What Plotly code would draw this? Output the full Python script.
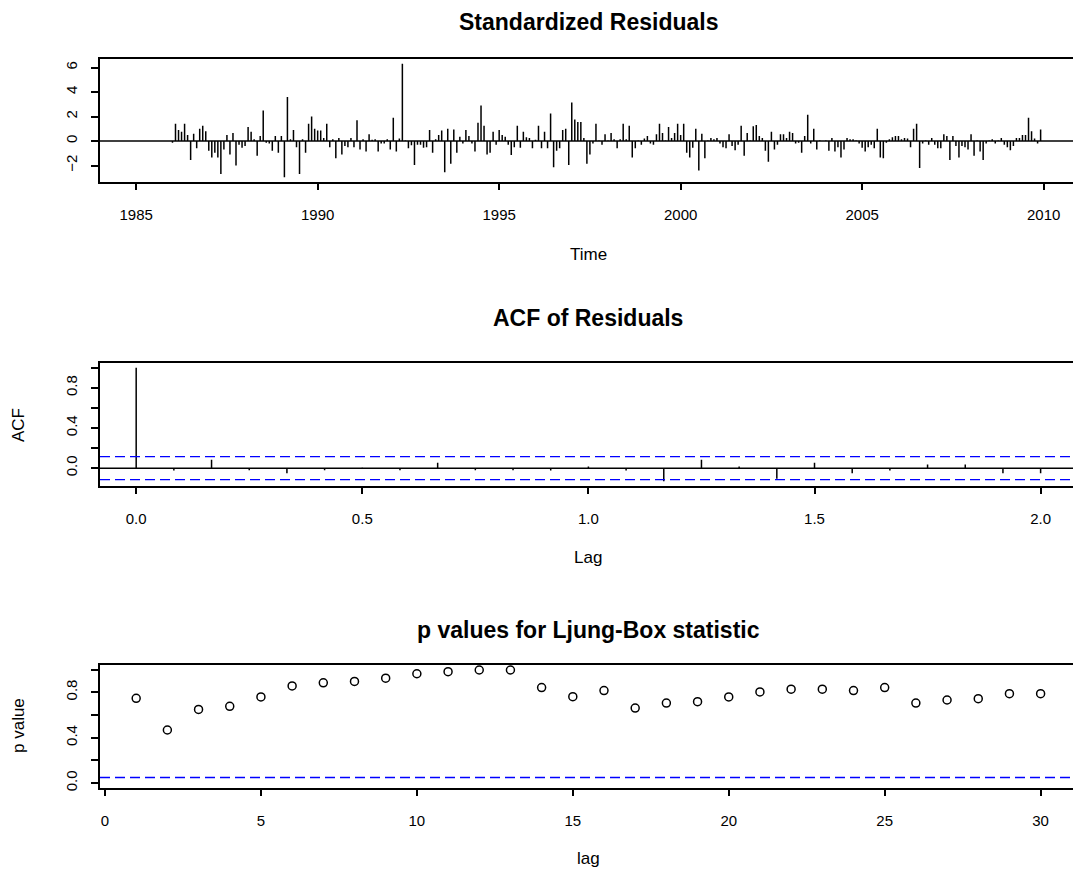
import plotly.graph_objects as go

# ---------------- data ----------------
resid_start = 1986.0          # first plotted residual (Jan 1986), monthly series
resid = [
    -0.15, 1.4, 0.9, 0.75, 1.4, 0.5, -1.55, 0.6, -0.6, 1.0, 1.25, 0.8,
    -0.8, -1.35, -0.95, -1.35, -2.7, -0.7, 0.5, -1.1, 0.65, -2.0, -0.3, -0.55,
    -0.4, 1.15, 0.75, 0.15, -1.2, 0.4, 2.5, -0.15, -0.2, -0.8, 0.4, -0.95,
    0.4, -2.95, 3.6, 0.15, 0.9, -0.5, -2.7, 0.15, -0.95, 1.4, 2.0, 1.0,
    0.85, 0.85, 0.25, 1.4, -0.5, 0.15, -1.4, 0.25, -1.1, -0.4,
    -0.5, 0.25, -0.5, 1.7, -0.7, 0.15, -0.85, 0.55, 0.1, 0.15, -0.85, -0.2,
    -0.2, 0.15, -0.7, 1.9, -0.85, 0.2, 6.3, 0.05, -0.6, -0.35, -1.95, -0.3,
    -0.3, -0.55, -0.5, 0.9, -0.95, 0.15, 0.5, 0.85, -2.55, 1.0, -1.85, 0.95,
    -0.95, 0.35, -0.2, 0.9, 0.4, -0.2, -0.85, 1.5, 2.9, 1.25, -1.1, -0.95,
    0.75, -0.3, 0.9, 0.5, 0.35, -0.3, -1.15, -0.5, 1.25, -0.55, 0.75,
    0.3, 0.25, -0.6, 0.1, 1.25, -0.6, 0.75, -0.6, 2.25, -2.15, -0.8, -0.6,
    0.9, 1.0, -1.95, 3.15, 1.75, 1.55, 1.55, 0.25, -1.85, -1.1, -0.2, 1.4,
    0.05, -0.3, 0.55, 0.05, 0.65, 0.15, -0.6, 0.15, 1.4, 0.15, 1.25, -1.35,
    -0.6, 0.05, -0.3, 0.2, 0.4, -0.2, -0.3, 0.55, 1.4, 0.65, 0.05, 1.15,
    0.25, 0.65, 1.4, 0.5, 1.4, -0.95, -1.35, -0.55, 1.0, -2.4, 0.6,
    -1.4, 0.05, 0.25, 0.15, 0.25, -0.2, -0.5, -0.6, 0.55, -0.4, -0.75, -0.3,
    1.25, -1.2, 0.65, 0.05, 1.2, 1.3, 0.4, 0.25, -0.8, -1.7, 0.75, -0.7,
    -0.3, 0.55, 0.55, 0.25, 0.75, 0.65, -0.2, -0.15, -0.95, 0.4, 2.15, -0.2,
    1.0, -0.7, 0.05, 0.0, 0.05, -0.8, 0.25, -0.85, -0.5, -1.35, -0.7, 0.25,
    0.15, 0.15, 0.05, -0.2, -0.55, -0.85, -0.5, -0.3, -0.6, 1.0, -1.35,
    -1.4, -0.15, 0.15, 0.3, 0.4, 0.4, 0.15, 0.25, 0.2, -0.5, 1.0, 1.4,
    -2.2, -0.2, 0.05, -0.3, 0.25, -0.3, -0.6, -0.6, 0.55, 0.4, -1.55, 0.4,
    -0.4, -1.35, -0.4, -0.5, -0.7, 0.55, -1.2, 0.05, -0.85, -1.55, -0.2, 0.05,
    0.15, -0.2, 0.05, 0.25, -0.3, -0.5, -0.75, -0.4, 0.25, 0.25, 0.5, 0.5,
    1.9, 0.8, 0.2, -0.2, 0.95,
]
resid_xticks = [1985, 1990, 1995, 2000, 2005, 2010]
resid_yticks = [-2, 0, 2, 4, 6]

acf_lags_months = list(range(0, 25))
acf_vals = [1.0, -0.023, 0.083, -0.02, -0.05, -0.02, 0.005, -0.02, 0.053, -0.02,
            -0.02, -0.023, 0.017, -0.023, -0.13, 0.083, 0.017, -0.106, 0.053,
            -0.05, -0.023, 0.037, 0.037, -0.05, -0.05]
acf_ci = 0.1155
acf_xticks = [0.0, 0.5, 1.0, 1.5, 2.0]
acf_xticktext = ["0.0", "0.5", "1.0", "1.5", "2.0"]

lb_lags = list(range(1, 31))
lb_pvals = [0.747, 0.468, 0.649, 0.676, 0.759, 0.856, 0.883, 0.895, 0.924, 0.963,
            0.981, 0.996, 0.996, 0.841, 0.761, 0.815, 0.661, 0.705, 0.717, 0.759,
            0.803, 0.827, 0.827, 0.815, 0.841, 0.705, 0.732, 0.744, 0.788, 0.788]
lb_sig = 0.05
lb_xticks = [0, 5, 10, 15, 20, 25, 30]

prob_yticks = [0.0, 0.2, 0.4, 0.6, 0.8, 1.0]
prob_yticktext = ["0.0", "", "0.4", "", "0.8", ""]

titles = ["Standardized Residuals", "ACF of Residuals", "p values for Ljung-Box statistic"]
xlabels = ["Time", "Lag", "lag"]
ylabels = ["", "ACF", "p value"]

# ---------------- figure ----------------
W, H = 1073, 870
ML = 100
FONT = "Liberation Sans, Arial, sans-serif"
fig = go.Figure()

def stems(xv, yv):
    xs, ys = [], []
    for a, b in zip(xv, yv):
        xs += [a, a, None]
        ys += [0, b, None]
    return xs, ys

t = [resid_start + i / 12 for i in range(len(resid))]
sx, sy = stems(t, resid)
fig.add_trace(go.Scatter(x=sx, y=sy, mode="lines", line=dict(color="black", width=1.5),
                         xaxis="x", yaxis="y", hoverinfo="skip", showlegend=False))

acf_x = [m / 12 for m in acf_lags_months]
ax_, ay_ = stems(acf_x, acf_vals)
fig.add_trace(go.Scatter(x=ax_, y=ay_, mode="lines", line=dict(color="black", width=1.5),
                         xaxis="x2", yaxis="y2", hoverinfo="skip", showlegend=False))

fig.add_trace(go.Scatter(x=lb_lags, y=lb_pvals, mode="markers",
                         marker=dict(symbol="circle-open", size=8, color="black",
                                     line=dict(width=1.5, color="black")),
                         xaxis="x3", yaxis="y3", hoverinfo="skip", showlegend=False))

def ext(lo, hi, f=0.04):
    d = (hi - lo) * f
    return lo - d, hi + d

r1 = ext(min(resid), max(resid))
x1lo, x1hi = ext(resid_start - 1.0, t[-1])
x2lo, x2hi = ext(0, acf_x[-1])
r2 = ext(min(min(acf_vals), -acf_ci), max(max(acf_vals), acf_ci))
x3lo, x3hi = ext(lb_lags[0], lb_lags[-1])
r3 = ext(0, 1)

# plot region in R extends ~977 px; browser window cuts it at 1073
PLOT_W_R = 976.8
vis = (W - ML) / PLOT_W_R
def cut(lo, hi):
    return [lo, lo + (hi - lo) * vis]

dom = {
    1: [1 - 181.7 / H, 1 - 59.3 / H],
    2: [1 - 485.7 / H, 1 - 363.3 / H],
    3: [1 - 787.7 / H, 1 - 665.0 / H],
}

tickfont = dict(family=FONT, size=15, color="black")
common_x = dict(showline=True, linecolor="black", linewidth=1.5, mirror=True,
                ticks="outside", ticklen=7, tickwidth=1.5, tickcolor="black",
                showgrid=False, zeroline=False, tickfont=tickfont,
                ticklabelstandoff=12, domain=[0, 1], automargin=False)
common_y = dict(showline=True, linecolor="black", linewidth=1.5, mirror=False,
                ticks="outside", ticklen=7, tickwidth=1.5, tickcolor="black",
                showgrid=False, zeroline=False, tickfont=tickfont, tickangle=-90,
                ticklabelstandoff=8, automargin=False)

fig.update_layout(
    width=W, height=H,
    margin=dict(l=ML, r=0, t=0, b=0),
    paper_bgcolor="white", plot_bgcolor="white",
    showlegend=False,
    xaxis=dict(common_x, range=cut(x1lo, x1hi), tickvals=resid_xticks, anchor="y"),
    yaxis=dict(common_y, range=list(r1), tickvals=resid_yticks, domain=dom[1], anchor="x"),
    xaxis2=dict(common_x, range=cut(x2lo, x2hi), tickvals=acf_xticks,
                ticktext=acf_xticktext, anchor="y2"),
    yaxis2=dict(common_y, range=list(r2), tickvals=prob_yticks, ticktext=prob_yticktext,
                domain=dom[2], anchor="x2"),
    xaxis3=dict(common_x, range=cut(x3lo, x3hi), tickvals=lb_xticks, anchor="y3"),
    yaxis3=dict(common_y, range=list(r3), tickvals=prob_yticks, ticktext=prob_yticktext,
                domain=dom[3], anchor="x3"),
)

shapes = [
    dict(type="line", xref="x domain", yref="y", x0=0, x1=1, y0=0, y1=0,
         line=dict(color="black", width=1.5)),
    dict(type="line", xref="x2 domain", yref="y2", x0=0, x1=1, y0=0, y1=0,
         line=dict(color="black", width=1.5)),
    dict(type="line", xref="x2 domain", yref="y2", x0=0, x1=1, y0=acf_ci, y1=acf_ci,
         line=dict(color="blue", width=1.3, dash="10px,5px")),
    dict(type="line", xref="x2 domain", yref="y2", x0=0, x1=1, y0=-acf_ci, y1=-acf_ci,
         line=dict(color="blue", width=1.3, dash="10px,5px")),
    dict(type="line", xref="x3 domain", yref="y3", x0=0, x1=1, y0=lb_sig, y1=lb_sig,
         line=dict(color="blue", width=1.3, dash="10px,5px")),
]
fig.update_layout(shapes=shapes)

cx = (588 - ML) / (W - ML)
title_y = [22, 318, 630]
xlab_y = [254, 557, 858]
ylab_cy = [120, 425, 726]
ann = []
for i in range(3):
    ann.append(dict(text="<b>%s</b>" % titles[i], xref="paper", yref="paper",
                    x=cx, y=1 - title_y[i] / H, xanchor="center", yanchor="middle",
                    showarrow=False, font=dict(family=FONT, size=23, color="black")))
    ann.append(dict(text=xlabels[i], xref="paper", yref="paper",
                    x=cx, y=1 - xlab_y[i] / H, xanchor="center", yanchor="middle",
                    showarrow=False, font=dict(family=FONT, size=17, color="black")))
    if ylabels[i]:
        ann.append(dict(text=ylabels[i], xref="paper", yref="paper",
                        x=(18 - ML) / (W - ML), y=1 - ylab_cy[i] / H, textangle=-90,
                        xanchor="center", yanchor="middle", showarrow=False,
                        font=dict(family=FONT, size=17, color="black")))
fig.update_layout(annotations=ann)

fig.write_html("out.html", config={"displayModeBar": False},
               post_script="document.body.style.margin='0';document.body.style.overflow='hidden';")
